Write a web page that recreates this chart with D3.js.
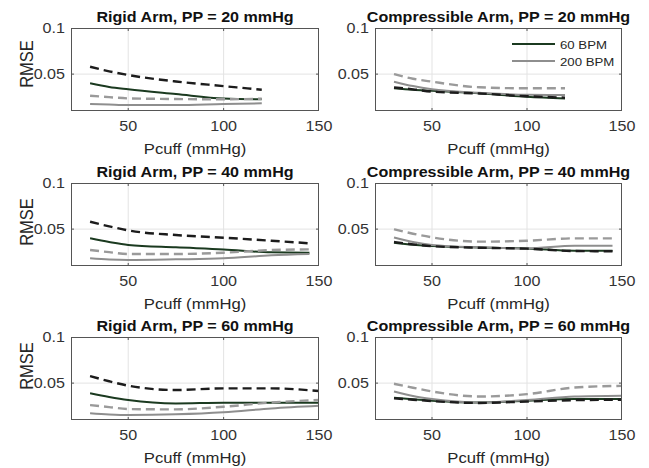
<!DOCTYPE html>
<html>
<head>
<meta charset="utf-8">
<script src="https://cdn.jsdelivr.net/npm/d3@7"></script>
<style>
  html, body { margin: 0; padding: 0; background: #fff; }
  svg { display: block; }
  text { font-family: "Liberation Sans", Arial, sans-serif; }
</style>
</head>
<body>
<svg id="chart" width="649" height="468"></svg>
<script>
// ---------- data ----------
const pcuffPP20 = [30, 40, 50, 75, 100, 120];
const pcuffPP40 = [30, 40, 50, 75, 100, 125, 145];
const pcuffPP60 = [30, 40, 50, 75, 100, 125, 150];

const xTicks = [50, 100, 150];
const yTicks = [0.05, 0.1];
const yTickLabels = ["0.05", "0.1"];
const legendLabels = ["60 BPM", "200 BPM"];

const titles = [
  "Rigid Arm, PP = 20 mmHg", "Compressible Arm,  PP = 20 mmHg",
  "Rigid Arm, PP = 40 mmHg", "Compressible Arm,  PP = 40 mmHg",
  "Rigid Arm, PP = 60 mmHg", "Compressible Arm,  PP = 60 mmHg"
];

// Rigid, PP = 20
const rigid20_60   = [0.040, 0.036, 0.0335, 0.0284, 0.0235, 0.0227];
const rigid20_200  = [0.0176, 0.017, 0.0165, 0.0165, 0.0176, 0.0183];
const rigid20_60d  = [0.058, 0.053, 0.049, 0.042, 0.037, 0.033];
const rigid20_200d = [0.0266, 0.025, 0.0237, 0.0230, 0.0227, 0.0233];
// Compressible, PP = 20
const comp20_60   = [0.0346, 0.033, 0.032, 0.0292, 0.0255, 0.0235];
const comp20_200  = [0.0418, 0.037, 0.0335, 0.0298, 0.0275, 0.0273];
const comp20_60d  = [0.0355, 0.0335, 0.031, 0.029, 0.026, 0.0245];
const comp20_200d = [0.050, 0.045, 0.0418, 0.0357, 0.0346, 0.0346];
// Rigid, PP = 40
const rigid40_60   = [0.040, 0.036, 0.0328, 0.0302, 0.028, 0.0248, 0.0244];
const rigid40_200  = [0.0183, 0.017, 0.0165, 0.0172, 0.0183, 0.0216, 0.023];
const rigid40_60d  = [0.058, 0.053, 0.0486, 0.0436, 0.0407, 0.0374, 0.0346];
const rigid40_200d = [0.0273, 0.025, 0.023, 0.023, 0.0244, 0.0273, 0.028];
// Compressible, PP = 40
const comp40_60   = [0.0353, 0.033, 0.0317, 0.030, 0.029, 0.0266, 0.0266];
const comp40_200  = [0.041, 0.036, 0.0328, 0.0302, 0.029, 0.032, 0.032];
const comp40_60d  = [0.036, 0.0335, 0.0315, 0.0298, 0.0288, 0.0262, 0.026];
const comp40_200d = [0.0498, 0.045, 0.0411, 0.0364, 0.0374, 0.040, 0.040];
// Rigid, PP = 60
const rigid60_60   = [0.039, 0.035, 0.0317, 0.028, 0.0287, 0.0287, 0.0287];
const rigid60_200  = [0.0172, 0.016, 0.0154, 0.0161, 0.0183, 0.0226, 0.0255];
const rigid60_60d  = [0.0577, 0.052, 0.0472, 0.0425, 0.0443, 0.0443, 0.0414];
const rigid60_200d = [0.0262, 0.024, 0.0219, 0.0215, 0.0244, 0.029, 0.0317];
// Compressible, PP = 60
const comp60_60   = [0.0342, 0.0325, 0.031, 0.029, 0.031, 0.0328, 0.0328];
const comp60_200  = [0.041, 0.036, 0.0328, 0.029, 0.0317, 0.0355, 0.0364];
const comp60_60d  = [0.0335, 0.032, 0.0305, 0.0285, 0.030, 0.0315, 0.032];
const comp60_200d = [0.0493, 0.045, 0.041, 0.0355, 0.038, 0.0452, 0.047];

// ---------- layout ----------
const panels = [
  { x: pcuffPP20, s: [rigid20_60, rigid20_200, rigid20_60d, rigid20_200d], col: 0, row: 0 },
  { x: pcuffPP20, s: [comp20_60, comp20_200, comp20_60d, comp20_200d], col: 1, row: 0 },
  { x: pcuffPP40, s: [rigid40_60, rigid40_200, rigid40_60d, rigid40_200d], col: 0, row: 1 },
  { x: pcuffPP40, s: [comp40_60, comp40_200, comp40_60d, comp40_200d], col: 1, row: 1 },
  { x: pcuffPP60, s: [rigid60_60, rigid60_200, rigid60_60d, rigid60_200d], col: 0, row: 2 },
  { x: pcuffPP60, s: [comp60_60, comp60_200, comp60_60d, comp60_200d], col: 1, row: 2 }
];
const colX = [[71, 319], [375, 622]];
const rowY = [[28, 111], [183, 266], [337, 420]];
const ylabelY = [64, 222, 366];

const styles = [
  { stroke: "#1b3a20", width: 2, dash: null },
  { stroke: "#8e8e8e", width: 2, dash: null },
  { stroke: "#1c1c1c", width: 2.4, dash: "9,5" },
  { stroke: "#9a9a9a", width: 2.4, dash: "9,5" }
];
const SX = 1.15; // horizontal stretch of the glyphs in the reference

const svg = d3.select("#chart");

function stretchedText(g, x, y, str, opts) {
  const t = g.append("text")
    .attr("transform", `translate(${x},${y}) scale(${SX},1)` + (opts.rotate ? ` rotate(${opts.rotate})` : ""))
    .attr("text-anchor", opts.anchor || "middle")
    .attr("font-size", opts.size)
    .attr("fill", opts.fill || "#262626")
    .text(str);
  if (opts.bold) t.attr("font-weight", "bold");
  if (opts.baseline) t.attr("dominant-baseline", opts.baseline);
  return t;
}

panels.forEach((p, i) => {
  const [x0, x1] = colX[p.col];
  const [y0, y1] = rowY[p.row];
  const x = d3.scaleLinear().domain([20, 150]).range([x0, x1]);
  const y = d3.scaleLinear().domain([0.01, 0.1]).range([y1, y0]);
  const g = svg.append("g");

  // grid
  g.selectAll(".gx").data(xTicks.filter(t => t < 150)).join("line")
    .attr("x1", d => x(d)).attr("x2", d => x(d))
    .attr("y1", y0).attr("y2", y1)
    .attr("stroke", "#e3e3e3").attr("stroke-width", 1);
  g.selectAll(".gy").data(yTicks.filter(t => t < 0.1)).join("line")
    .attr("x1", x0).attr("x2", x1)
    .attr("y1", d => y(d)).attr("y2", d => y(d))
    .attr("stroke", "#e3e3e3").attr("stroke-width", 1);

  // series
  const clipId = "clip" + i;
  g.append("clipPath").attr("id", clipId).append("rect")
    .attr("x", x0).attr("y", y0).attr("width", x1 - x0).attr("height", y1 - y0);
  const lineGen = d3.line().x(d => x(d[0])).y(d => y(d[1])).curve(d3.curveMonotoneX);
  p.s.forEach((vals, k) => {
    const st = styles[k];
    const path = g.append("path")
      .datum(p.x.map((v, j) => [v, vals[j]]))
      .attr("d", lineGen)
      .attr("fill", "none")
      .attr("stroke", st.stroke)
      .attr("stroke-width", st.width)
      .attr("clip-path", `url(#${clipId})`);
    if (st.dash) path.attr("stroke-dasharray", st.dash);
  });

  // box
  g.append("rect").attr("x", x0 + 0.5).attr("y", y0 + 0.5)
    .attr("width", x1 - x0 - 1).attr("height", y1 - y0 - 1)
    .attr("fill", "none").attr("stroke", "#555").attr("stroke-width", 1);

  // tick marks (inward)
  xTicks.filter(t => t < 150).forEach(t => {
    g.append("line").attr("x1", x(t)).attr("x2", x(t)).attr("y1", y1).attr("y2", y1 - 3).attr("stroke", "#555");
    g.append("line").attr("x1", x(t)).attr("x2", x(t)).attr("y1", y0).attr("y2", y0 + 3).attr("stroke", "#555");
  });
  yTicks.filter(t => t < 0.1).forEach(t => {
    g.append("line").attr("x1", x0).attr("x2", x0 + 3).attr("y1", y(t)).attr("y2", y(t)).attr("stroke", "#555");
    g.append("line").attr("x1", x1).attr("x2", x1 - 3).attr("y1", y(t)).attr("y2", y(t)).attr("stroke", "#555");
  });

  // tick labels
  xTicks.forEach(t => stretchedText(g, x(t), y1 + 20, String(t), { size: 14, fill: "#333" }));
  yTicks.forEach((t, j) => stretchedText(g, x0 - 6, y(t) + 5, yTickLabels[j], { size: 14, anchor: "end", fill: "#333" }));

  // axis label
  stretchedText(g, (x0 + x1) / 2, y1 + 43, "Pcuff (mmHg)", { size: 14.5, fill: "#262626" });
  if (p.col === 0) {
    stretchedText(g, 33, ylabelY[p.row], "RMSE", { size: 16.5, rotate: -90, fill: "#262626" });
  }

  // title
  stretchedText(g, (x0 + x1) / 2, y0 - 6, titles[i], { size: 14, bold: true, fill: "#111" });

  // legend in the top-right panel
  if (i === 1) {
    legendLabels.forEach((lab, k) => {
      const ly = 44 + k * 17;
      g.append("line").attr("x1", 512).attr("x2", 555).attr("y1", ly).attr("y2", ly)
        .attr("stroke", styles[k].stroke).attr("stroke-width", 2);
      stretchedText(g, 560, ly + 4.5, lab, { size: 11.5, anchor: "start", fill: "#262626" });
    });
  }
});
</script>
</body>
</html>
